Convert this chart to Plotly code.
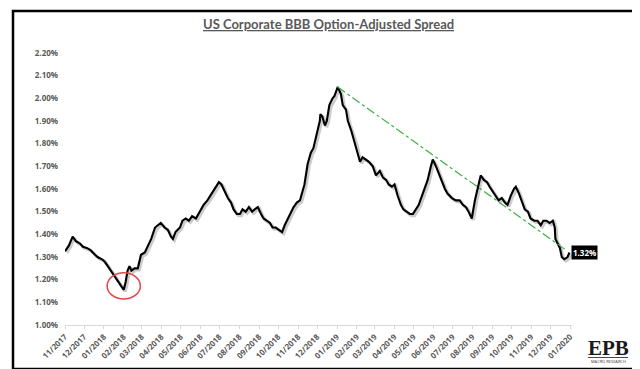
import plotly.graph_objects as go

# ---------------- data ----------------
dates = [
    "2017-11-01", "2017-11-07", "2017-11-13", "2017-11-18", "2017-11-24", "2017-11-29",
    "2017-12-05", "2017-12-11", "2017-12-18", "2017-12-22", "2017-12-29",
    "2018-01-02", "2018-01-07", "2018-01-12", "2018-01-16", "2018-01-19", "2018-01-24", "2018-01-27",
    "2018-02-01", "2018-02-04", "2018-02-07", "2018-02-10", "2018-02-13", "2018-02-18", "2018-02-23", "2018-02-28",
    "2018-03-06", "2018-03-11", "2018-03-16", "2018-03-22", "2018-03-26", "2018-03-31",
    "2018-04-06", "2018-04-11", "2018-04-16", "2018-04-19", "2018-04-23", "2018-04-30",
    "2018-05-04", "2018-05-09", "2018-05-14", "2018-05-19", "2018-05-25", "2018-05-31",
    "2018-06-06", "2018-06-12", "2018-06-19", "2018-06-25", "2018-06-30",
    "2018-07-04", "2018-07-09", "2018-07-14", "2018-07-19", "2018-07-23", "2018-07-28",
    "2018-08-02", "2018-08-06", "2018-08-11", "2018-08-16", "2018-08-21", "2018-08-25", "2018-08-30",
    "2018-09-04", "2018-09-08", "2018-09-13", "2018-09-18", "2018-09-22", "2018-09-27",
    "2018-10-02", "2018-10-07", "2018-10-11", "2018-10-16", "2018-10-21", "2018-10-25", "2018-10-30",
    "2018-11-04", "2018-11-08", "2018-11-11", "2018-11-16", "2018-11-21", "2018-11-25", "2018-11-29",
    "2018-12-02", "2018-12-05", "2018-12-06", "2018-12-09", "2018-12-13", "2018-12-16", "2018-12-20",
    "2018-12-25", "2018-12-28",
    "2019-01-02", "2019-01-07", "2019-01-10", "2019-01-15", "2019-01-18", "2019-01-23", "2019-01-27", "2019-01-30",
    "2019-02-02", "2019-02-06", "2019-02-10", "2019-02-15", "2019-02-20", "2019-02-26",
    "2019-03-03", "2019-03-09", "2019-03-14", "2019-03-19", "2019-03-23", "2019-03-28",
    "2019-04-01", "2019-04-06", "2019-04-11", "2019-04-15", "2019-04-20", "2019-04-25", "2019-04-30",
    "2019-05-04", "2019-05-09", "2019-05-14", "2019-05-18", "2019-05-23", "2019-05-28", "2019-05-31",
    "2019-06-05", "2019-06-09", "2019-06-14", "2019-06-19", "2019-06-23", "2019-06-30",
    "2019-07-06", "2019-07-12", "2019-07-17", "2019-07-22", "2019-07-26", "2019-07-31",
    "2019-08-05", "2019-08-10", "2019-08-14", "2019-08-19", "2019-08-24", "2019-08-28",
    "2019-09-02", "2019-09-07", "2019-09-11", "2019-09-16", "2019-09-21", "2019-09-25", "2019-09-30",
    "2019-10-05", "2019-10-08", "2019-10-13", "2019-10-17", "2019-10-22", "2019-10-27", "2019-10-31",
    "2019-11-06", "2019-11-11", "2019-11-16", "2019-11-20", "2019-11-25", "2019-11-30",
    "2019-12-05", "2019-12-08", "2019-12-09", "2019-12-12", "2019-12-16", "2019-12-19", "2019-12-23",
    "2019-12-28", "2019-12-31",
]
spread = [
    1.325, 1.35, 1.39, 1.37, 1.36, 1.345,
    1.34, 1.33, 1.31, 1.30, 1.29,
    1.28, 1.26, 1.24, 1.22, 1.21, 1.19, 1.18,
    1.155, 1.19, 1.24, 1.26, 1.24, 1.25, 1.25, 1.31,
    1.32, 1.35, 1.38, 1.43, 1.44, 1.45,
    1.43, 1.42, 1.39, 1.38, 1.41, 1.43,
    1.46, 1.47, 1.46, 1.48, 1.47, 1.50,
    1.53, 1.55, 1.58, 1.61, 1.63,
    1.62, 1.59, 1.56, 1.54, 1.51, 1.49,
    1.49, 1.51, 1.50, 1.52, 1.50, 1.51, 1.52,
    1.49, 1.47, 1.46, 1.45, 1.43, 1.43,
    1.42, 1.41, 1.44, 1.47, 1.50, 1.52, 1.54,
    1.55, 1.59, 1.62, 1.71, 1.76, 1.78, 1.83,
    1.87, 1.90, 1.93, 1.92, 1.88, 1.90, 1.97,
    2.00, 2.01,
    2.05, 2.02, 1.97, 1.95, 1.90, 1.86, 1.82, 1.80,
    1.76, 1.72, 1.74, 1.73, 1.72, 1.70,
    1.66, 1.68, 1.65, 1.64, 1.62, 1.61,
    1.62, 1.57, 1.53, 1.51, 1.50, 1.49, 1.49,
    1.51, 1.53, 1.57, 1.60, 1.64, 1.70, 1.73,
    1.70, 1.67, 1.63, 1.60, 1.58, 1.56,
    1.55, 1.55, 1.53, 1.52, 1.50, 1.47,
    1.55, 1.62, 1.66, 1.64, 1.63, 1.61,
    1.59, 1.57, 1.55, 1.56, 1.54, 1.53, 1.57,
    1.60, 1.61, 1.58, 1.55, 1.51, 1.50, 1.47,
    1.46, 1.46, 1.44, 1.46, 1.46, 1.45,
    1.46, 1.43, 1.38, 1.36, 1.34, 1.30, 1.29,
    1.30, 1.32,
]
trend_end_date = "2019-12-26"
trend_end_value = 1.33
last_label = "1.32%"
title_text = "US Corporate BBB Option-Adjusted Spread"
x_range = ["2017-11-01", "2020-01-04"]
y_range = [1.0, 2.2]
circle_dates = ["2018-01-06", "2018-02-27"]
circle_values = [1.115, 1.23]

# ---------------- layout helpers ----------------
W, H = 640, 369


def px(x):
    return x / W


def py(y):
    return 1 - y / H


dom_x = [px(57), px(564)]
dom_y = [py(317), py(45)]
sh = 1.6  # shadow offset in px

fig = go.Figure()

# soft shadow of the series line (hidden axes x/y, drawn first = underneath)
fig.add_trace(go.Scatter(
    x=dates, y=spread, xaxis="x", yaxis="y", mode="lines",
    line=dict(color="rgba(0,0,0,0.20)", width=3.2),
    hoverinfo="skip", showlegend=False))

# main series (visible axes x2/y2, drawn on top)
fig.add_trace(go.Scatter(
    x=dates, y=spread, xaxis="x2", yaxis="y2", mode="lines",
    line=dict(color="#000000", width=2.1), showlegend=False))

# trend line from the peak to the end
i_peak = spread.index(max(spread))
fig.add_trace(go.Scatter(
    x=[dates[i_peak], trend_end_date], y=[spread[i_peak], trend_end_value],
    xaxis="x2", yaxis="y2",
    mode="lines", line=dict(color="#3cb043", width=1.2, dash="dashdot"),
    showlegend=False))

font_axis = dict(family="Open Sans", size=8, color="#595959", weight="bold")

fig.update_layout(
    width=W, height=H,
    margin=dict(l=0, r=0, t=0, b=0),
    paper_bgcolor="white", plot_bgcolor="rgba(0,0,0,0)",
    showlegend=False,
    xaxis=dict(
        domain=[dom_x[0] + sh / W, dom_x[1] + sh / W], range=x_range,
        type="date", visible=False, anchor="y"),
    yaxis=dict(
        domain=[dom_y[0] - sh / H, dom_y[1] - sh / H], range=y_range,
        visible=False, anchor="x"),
    xaxis2=dict(
        domain=dom_x, range=x_range, type="date",
        tick0="2017-11-01", dtick="M1", tickformat="%m/%Y",
        tickangle=-45, tickfont=font_axis,
        showgrid=False, zeroline=False,
        showline=True, linecolor="#d9d9d9", linewidth=1,
        ticks="outside", ticklen=3, tickcolor="#d9d9d9",
        automargin=False, anchor="y2"),
    yaxis2=dict(
        domain=dom_y, range=y_range, dtick=0.1, tick0=1.0,
        tickformat=".2f", ticksuffix="%", tickfont=font_axis,
        showgrid=False, zeroline=False, showline=False,
        ticks="", ticklabelstandoff=6, automargin=False, anchor="x2"),
)

# frame with drop shadow
fig.add_shape(type="rect", xref="paper", yref="paper",
              x0=px(7.5), x1=px(638), y0=py(363.5), y1=py(5),
              line=dict(color="#a6a6a6", width=2), layer="below")
fig.add_shape(type="rect", xref="paper", yref="paper",
              x0=px(5), x1=px(636), y0=py(361), y1=py(3),
              line=dict(color="#000000", width=2.5), fillcolor="white", layer="below")

# red circle around the low
fig.add_shape(type="circle", xref="x2", yref="y2",
              x0=circle_dates[0], x1=circle_dates[1],
              y0=circle_values[0], y1=circle_values[1],
              line=dict(color="#e5464a", width=1.5))

# last value label
fig.add_annotation(
    x=dates[-1], y=float(last_label.rstrip("%")), xref="x2", yref="y2",
    text="<b>" + last_label + "</b>", showarrow=False,
    xanchor="left", yanchor="middle", xshift=2,
    bgcolor="#000000", font=dict(family="Open Sans", size=8, color="white"),
    borderpad=1)

# title
fig.add_annotation(
    x=0.5, y=py(16), xref="paper", yref="paper",
    text="<u><b>" + title_text + "</b></u>", showarrow=False,
    xanchor="center", yanchor="middle",
    font=dict(family="Lato", size=13, color="#595959"))

# EPB logo
fig.add_annotation(
    x=px(600), y=py(340), xref="paper", yref="paper",
    text="<b>EPB</b>", showarrow=False, xanchor="center", yanchor="middle",
    font=dict(family="Liberation Serif", size=21, color="#1a1a1a"))
fig.add_shape(type="line", xref="paper", yref="paper",
              x0=px(580), x1=px(620), y0=py(349.5), y1=py(349.5),
              line=dict(color="#1a1a1a", width=0.8))
fig.add_annotation(
    x=px(600), y=py(353), xref="paper", yref="paper",
    text="MACRO RESEARCH", showarrow=False, xanchor="center", yanchor="middle",
    font=dict(family="Open Sans", size=4, color="#333333"))

fig.write_html("out.html")
